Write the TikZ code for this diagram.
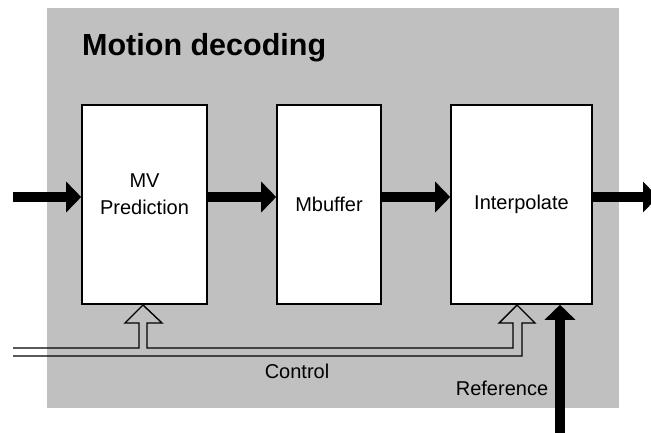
\documentclass[tikz,border=0pt]{standalone}
\usepackage{fontspec}
\setmainfont{Liberation Sans}
\usetikzlibrary{arrows.meta}

\definecolor{panelgray}{RGB}{192,192,192}
\tikzset{
  blockbox/.style={draw, line width=1.6pt, fill=white, minimum height=199pt,
    inner sep=0pt, align=center, font=\fontsize{20pt}{27pt}\selectfont},
  boxtext/.style={align=center, inner sep=0pt, font=\fontsize{20pt}{27pt}\selectfont},
  bigarrow/.style={line width=9.5pt, -{Triangle[length=15pt,width=30pt]}},
  ctrlline/.style={line width=1.4pt, line join=miter},
}

\begin{document}
\begin{tikzpicture}[x=1pt, y=-1pt]
    \useasboundingbox (0,0) rectangle (651,432);
    % panel
    \fill[panelgray] (47,8) rectangle (619,408);
    \node[anchor=west, inner sep=0pt, font=\fontsize{30.5pt}{36pt}\selectfont\bfseries] (title) at (82,48) {Motion decoding};

    % blocks
    \node[blockbox, minimum width=125pt,
      label={[boxtext, yshift=10pt]center:{MV\\Prediction}}] (mvp) at (144.5,204.5) {};
    \node[blockbox, minimum width=104pt] (mbuf) at (329,204.5) {Mbuffer};
    \node[blockbox, minimum width=141pt] (interp) at (521.5,204.5) {Interpolate};

    % data path
    \coordinate (datain) at (13,197);
    \coordinate (dataout) at (658,197);
    \coordinate (refin) at (560,440);
    \draw[bigarrow] (datain) -- (datain -| mvp.west);
    \draw[bigarrow] ([yshift=7.5pt]mvp.east) -- ([yshift=7.5pt]mbuf.west);
    \draw[bigarrow] ([yshift=7.5pt]mbuf.east) -- ([yshift=7.5pt]interp.west);
    \draw[bigarrow] ([yshift=7.5pt]interp.east) -- (dataout);
    \draw[bigarrow] (refin) -- (refin |- interp.south);

    % control (hollow double line)
    \draw[ctrlline] (13,348) -- (139,348) -- (139,323) -- (125,323) -- (143,305)
      -- (162,323) -- (147,323) -- (147,348) -- (513,348) -- (513,323) -- (499,323)
      -- (517,305) -- (535,323) -- (522,323) -- (522,356) -- (13,356);

    \node[boxtext] (ctrllabel) at (297,371) {Control};
    \node[boxtext] (reflabel) at (502,388) {Reference};
\end{tikzpicture}
\end{document}
